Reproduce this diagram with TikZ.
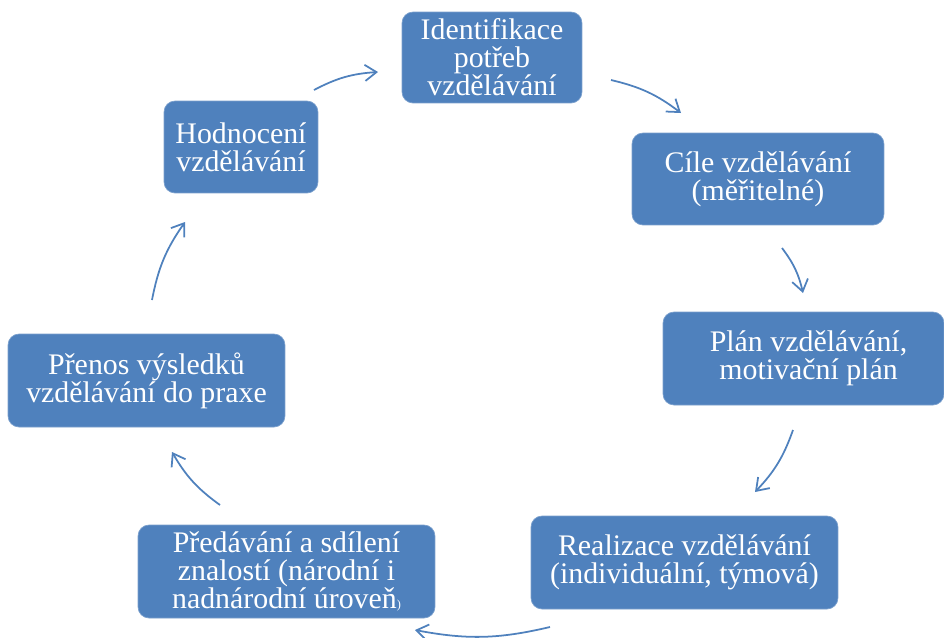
\documentclass[tikz,border=0pt]{standalone}
\usepackage{fontspec}
\setmainfont{Liberation Serif}
\usetikzlibrary{arrows.meta}
\definecolor{boxblue}{RGB}{79,129,189}

\begin{document}
\begin{tikzpicture}[x=0.02cm, y=-0.02cm,
    stage/.style={draw=boxblue!75!white, fill=boxblue, rounded corners=0.22cm, text=white,
        align=center, inner sep=0pt, font=\fontsize{17}{16}\selectfont},
    cyc/.style={draw=boxblue, line width=1pt, -{Straight Barb[angle=70:8pt]}, bend left=12}]
    \useasboundingbox (0,0) rectangle (944,637);
    \node[stage, minimum width=3.6cm, minimum height=1.82cm] (ident) at (492,57.5) {Identifikace\\potřeb\\vzdělávání};
    \node[stage, minimum width=5.04cm, minimum height=1.84cm] (cile) at (758,179) {Cíle vzdělávání\\(měřitelné)};
    \node[stage, minimum width=5.62cm, minimum height=1.86cm] (plan) at (803.5,358.5) {\hspace{0.2cm}Plán vzdělávání,\\\hspace{0.2cm}motivační plán};
    \node[stage, minimum width=6.14cm, minimum height=1.86cm] (real) at (684.5,562.5) {Realizace vzdělávání\\(individuální, týmová)};
    \node[stage, minimum width=5.94cm, minimum height=1.86cm] (pred) at (286.5,571.5) {Předávání a sdílení\\znalostí (národní i\\nadnárodní úroveň{\scriptsize)}};
    \node[stage, minimum width=5.54cm, minimum height=1.86cm] (pren) at (146.5,380.5) {Přenos výsledků\\vzdělávání do praxe};
    \node[stage, minimum width=3.08cm, minimum height=1.84cm] (hodn) at (241,147) {Hodnocení\\vzdělávání};
    \coordinate (hodn-out) at (314,90);
    \coordinate (ident-in) at (378,72);
    \coordinate (ident-out) at (611,80);
    \coordinate (cile-in) at (681,113);
    \coordinate (cile-out) at (782,248);
    \coordinate (plan-in) at (803,293);
    \coordinate (plan-out) at (793,430);
    \coordinate (real-in) at (755,492);
    \coordinate (real-out) at (550,627);
    \coordinate (pred-in) at (415,630);
    \coordinate (pred-out) at (220,505);
    \coordinate (pren-in) at (172,452);
    \coordinate (pren-out) at (152,300);
    \coordinate (hodn-in) at (185,222);
    \draw[cyc] (hodn-out) to (ident-in);
    \draw[cyc] (ident-out) to (cile-in);
    \draw[cyc] (cile-out) to (plan-in);
    \draw[cyc] (plan-out) to (real-in);
    \draw[cyc] (real-out) to (pred-in);
    \draw[cyc] (pred-out) to (pren-in);
    \draw[cyc] (pren-out) to (hodn-in);
\end{tikzpicture}
\end{document}
